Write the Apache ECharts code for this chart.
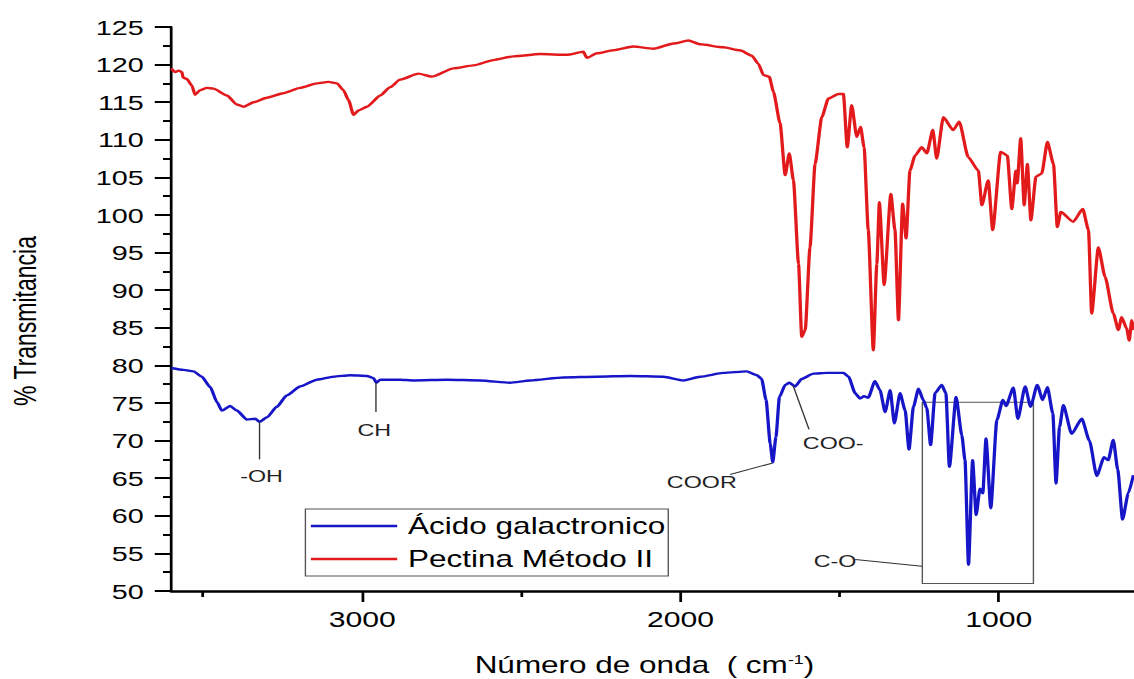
<!DOCTYPE html>
<html>
<head>
<meta charset="utf-8">
<title>FTIR</title>
<script src="https://cdn.jsdelivr.net/npm/echarts/dist/echarts.min.js"></script>
<style>
html, body { margin: 0; padding: 0; background: #fff; overflow: hidden; }
/* the source figure is stretched sideways, so the chart is drawn narrow and widened */
#myChart { width: 828px; height: 679px; transform: scaleX(1.36957); transform-origin: 0 0; }
</style>
</head>
<body>
<div id="myChart"></div>
<script>
// wavenumber (cm-1) and % transmittance
var acidoWn = [3600,3561,3530,3504,3477,3456,3441,3415,3394,3362,3336,3323,3299,3268,3237,3195,3142,3090,3038,2985,2964,2956,2943,2881,2839,2734,2629,2535,2472,2368,2263,2158,2054,1991,1938,1865,1792,1760,1745,1731,1718,1710,1700,1689,1671,1658,1640,1619,1582,1540,1488,1472,1451,1436,1423,1410,1389,1373,1357,1341,1328,1310,1294,1282,1268,1252,1237,1226,1214,1200,1179,1166,1155,1134,1116,1106,1095,1082,1071,1059,1050,1040,1025,1006,987,977,954,940,917,900,879,862,847,830,820,809,797,771,739,715,692,669,656,640,626,611,593,577];
var acidoT = [79.65,79.4,79.2,78.5,77.1,75.1,74.0,74.6,74.0,72.8,72.9,72.5,73.1,74.5,76.0,77.2,78.1,78.5,78.7,78.6,78.3,77.7,78.1,78.1,78.0,78.1,78.0,77.7,78.0,78.4,78.5,78.6,78.5,78.0,78.5,79.0,79.2,78.7,78.2,75.4,69.6,67.1,70.5,75.8,77.4,77.7,77.2,78.2,78.9,79.0,79.0,78.5,76.3,75.6,75.9,75.7,77.9,76.7,73.8,76.7,72.3,76.3,74.0,68.8,74.5,76.9,75.4,74.3,69.4,76.3,77.4,76.3,66.5,75.8,70.7,67.4,53.5,67.4,60.1,63.6,63.0,70.3,61.0,72.7,75.4,74.6,77.05,72.9,77.2,74.5,77.4,75.4,77.1,73.6,64.3,71.8,74.7,70.9,72.9,70.0,65.3,67.8,67.4,70.1,66.1,59.5,63.0,65.4];

var pectinaWn = [3600,3587,3577,3566,3563,3551,3535,3525,3509,3488,3467,3425,3394,3373,3341,3299,3247,3195,3142,3106,3079,3059,3043,3027,3012,2985,2943,2912,2881,2823,2781,2713,2650,2588,2525,2441,2357,2305,2294,2263,2211,2148,2085,2022,1975,1938,1865,1813,1776,1755,1739,1721,1708,1687,1671,1658,1645,1629,1619,1608,1593,1577,1556,1535,1504,1488,1476,1462,1446,1434,1423,1410,1394,1383,1375,1360,1339,1326,1315,1302,1291,1279,1263,1242,1226,1207,1195,1174,1143,1124,1096,1064,1053,1033,1019,994,973,959,946,942,931,920,910,899,883,865,847,828,816,805,766,736,718,708,687,666,640,624,614,598,590,582,575];
var pectinaT = [119.5,119.0,119.2,119.0,118.3,118.1,117.2,116.0,116.6,116.9,116.8,115.9,114.7,114.4,115.0,115.6,116.2,116.9,117.5,117.7,117.5,116.6,115.3,113.3,113.9,114.4,115.9,117.0,118.0,118.8,118.4,119.5,119.9,120.6,121.1,121.4,121.3,121.7,120.9,121.5,121.9,122.4,122.1,122.8,123.2,122.7,122.3,121.9,121.2,120.1,118.6,118.4,116.4,112.2,105.3,108.2,104.6,93.5,83.8,84.7,95.7,106.8,113.0,115.5,116.1,116.1,109.0,114.6,110.4,111.7,109.0,98.0,82.0,93.5,101.7,90.7,102.8,98.0,86.0,101.5,96.9,105.9,107.9,109.0,108.2,111.3,107.5,113.0,111.3,112.4,107.7,105.9,101.3,104.6,98.0,108.4,107.9,100.8,105.9,104.2,110.2,101.3,106.8,99.3,105.1,105.5,109.7,106.8,98.4,100.4,99.1,100.8,98.0,86.9,95.7,91.8,86.9,84.7,86.4,84.9,83.3,86.0,84.7];

var seriesNames = ['Ácido galactronico', 'Pectina Método II'];
var xLabelTicks = [1000, 2000, 3000];
var xMinorTicks = [1500, 2500, 3500];

// band labels: text, label position, leader line start and end (data units)
var bandNames = ['-OH', 'CH', 'COOR', 'COO-', 'C-O'];
var bandLabelAt = [[3316, 65.3], [2962, 71.4], [1933, 64.5], [1520, 69.7], [1514, 53.95]];
var bandLines = [
	[[3323, 72.5], [3323, 67.5]],
	[[2956, 77.7], [2956, 73.8]],
	[[1844, 65.5], [1712, 67.0]],
	[[1646, 77.3], [1596, 71.5]],
	[[1451, 54.2], [1241, 53.3]]
];
var boxCorners = [[1240, 75.1], [891, 51.0]];

var font = '"Liberation Sans", Arial, sans-serif';

var pairs = function(xs, ys) {
	return xs.map(function(x, i) { return [x, ys[i]]; });
};

var chart = echarts.init(document.getElementById('myChart'), null, {renderer: 'svg'});

var option = {
	animation: false,
	backgroundColor: '#fff',
	grid: { left: 125, right: 0, top: 27, bottom: 88, outerBoundsMode: 'none' },
	legend: {
		orient: 'vertical',
		left: 223,
		top: 509,
		padding: [4, 2, 4, 4],
		itemGap: 7,
		icon: 'rect',
		itemWidth: 63,
		itemHeight: 2.4,
		borderColor: '#555',
		borderWidth: 1,
		data: seriesNames,
		textStyle: { fontFamily: font, fontSize: 23, color: '#000', lineHeight: 26, padding: [0, 0, 0, 3] }
	},
	xAxis: [{
		type: 'value',
		inverse: true,
		min: 575,
		max: 3600,
		position: 'bottom',
		name: 'Número de onda  ( cm{sup|-1})',
		nameLocation: 'middle',
		nameGap: 62,
		nameTextStyle: {
			fontFamily: font, fontSize: 23, lineHeight: 24, color: '#000', padding: [0, 12, 0, 0],
			rich: { sup: { fontFamily: font, fontSize: 13, color: '#000', verticalAlign: 'top' } }
		},
		axisLine: { onZero: false, lineStyle: { color: '#000', width: 2.5 } },
		axisTick: { customValues: xLabelTicks, length: 11, lineStyle: { color: '#000', width: 2 } },
		axisLabel: {
			customValues: xLabelTicks, margin: 17, fontFamily: font, fontSize: 22, color: '#000',
			formatter: function(v) { return String(v); }
		},
		splitLine: { show: false }
	}, {
		type: 'value',
		inverse: true,
		min: 575,
		max: 3600,
		position: 'bottom',
		axisLine: { show: false, onZero: false },
		axisTick: { customValues: xMinorTicks, length: 6, lineStyle: { color: '#000', width: 2 } },
		axisLabel: { show: false },
		splitLine: { show: false }
	}],
	yAxis: {
		type: 'value',
		min: 50,
		max: 125,
		interval: 5,
		name: '% Transmitancia',
		nameLocation: 'middle',
		nameGap: 95,
		nameTextStyle: { fontFamily: font, fontSize: 23, color: '#000', padding: [0, 24, 0, 0] },
		axisLine: { show: true, lineStyle: { color: '#000', width: 2 } },
		axisTick: { length: 12, lineStyle: { color: '#000', width: 2 } },
		minorTick: { show: true, splitNumber: 2, length: 6, lineStyle: { color: '#000', width: 2 } },
		axisLabel: { margin: 20, fontFamily: font, fontSize: 21, color: '#000' },
		splitLine: { show: false }
	},
	series: [{
		name: seriesNames[0],
		type: 'line',
		symbol: 'none',
		smooth: 0.2,
		smoothMonotone: 'x',
		color: '#1616c8',
		lineStyle: { width: 2.4 },
		data: pairs(acidoWn, acidoT),
		markLine: {
			silent: true,
			symbol: ['none', 'none'],
			label: { show: false },
			lineStyle: { color: '#333', width: 1, type: 'solid' },
			data: bandLines.map(function(l) { return [{ coord: l[0] }, { coord: l[1] }]; })
		},
		markPoint: {
			silent: true,
			symbol: 'rect',
			symbolSize: 1,
			itemStyle: { color: 'rgba(0,0,0,0)' },
			label: { show: true, position: 'inside', formatter: '{b}', fontFamily: font, fontSize: 17, color: '#222' },
			data: bandNames.map(function(n, i) { return { name: n, coord: bandLabelAt[i] }; })
		},
		markArea: {
			silent: true,
			itemStyle: { color: 'rgba(0,0,0,0)', borderColor: '#555', borderWidth: 1 },
			data: [[{ coord: boxCorners[0] }, { coord: boxCorners[1] }]]
		}
	}, {
		name: seriesNames[1],
		type: 'line',
		symbol: 'none',
		smooth: 0.2,
		smoothMonotone: 'x',
		color: '#e31a1c',
		lineStyle: { width: 2.4 },
		data: pairs(pectinaWn, pectinaT)
	}]
};

chart.setOption(option);
</script>
</body>
</html>
